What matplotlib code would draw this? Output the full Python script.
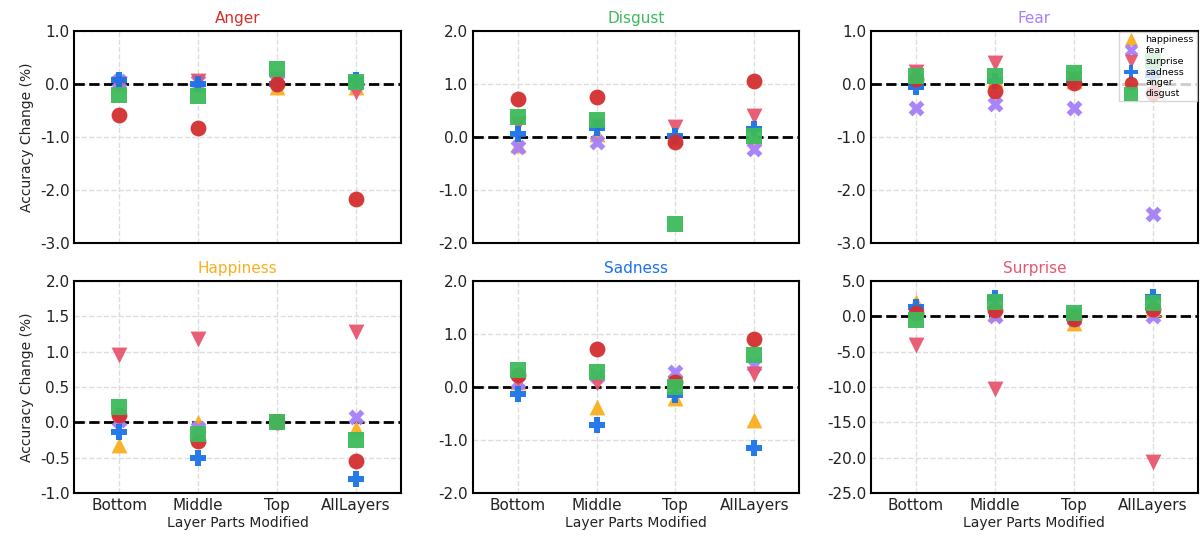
import numpy as np
import matplotlib
matplotlib.use("Agg")
import matplotlib.pyplot as plt
from matplotlib.ticker import FormatStrFormatter

# Категорії
layers = ["Bottom", "Middle", "Top", "AllLayers"]
emotions = ["happiness", "fear", "surprise", "sadness", "anger", "disgust"]

colors = {
    "happiness": "#F9AF1F",
    "fear": "#A67FFA",
    "surprise": "#E8566F",
    "sadness": "#1A73E8",
    "anger": "#D32F2F",
    "disgust": "#3DBB5C",
}
markers = {
    "happiness": "^",
    "fear": "X",
    "surprise": "v",
    "sadness": "P",
    "anger": "o",
    "disgust": "s",
}

# Зміна точності (%) для кожної цільової емоції: [Bottom, Middle, Top, AllLayers]
anger_panel = {
    "happiness": [0.0, 0.0, -0.05, -0.05],
    "fear": [0.05, 0.05, 0.05, 0.0],
    "surprise": [0.0, 0.05, 0.1, -0.15],
    "sadness": [0.08, 0.0, 0.0, 0.08],
    "anger": [-0.58, -0.83, 0.0, -2.16],
    "disgust": [-0.21, -0.23, 0.28, 0.04],
}
disgust_panel = {
    "happiness": [-0.15, 0.05, 0.0, 0.0],
    "fear": [-0.18, -0.1, -0.05, -0.23],
    "surprise": [0.25, 0.2, 0.19, 0.4],
    "sadness": [0.05, 0.18, 0.02, 0.15],
    "anger": [0.72, 0.76, -0.1, 1.05],
    "disgust": [0.38, 0.33, -1.64, 0.02],
}
fear_panel = {
    "happiness": [0.05, 0.1, 0.05, 0.15],
    "fear": [-0.45, -0.37, -0.45, -2.45],
    "surprise": [0.22, 0.4, 0.1, 0.3],
    "sadness": [-0.06, 0.05, 0.05, 0.17],
    "anger": [0.1, -0.13, 0.02, -0.17],
    "disgust": [0.16, 0.16, 0.2, 0.43],
}
happiness_panel = {
    "happiness": [-0.32, 0.01, 0.02, -0.08],
    "fear": [0.04, -0.08, 0.0, 0.08],
    "surprise": [0.96, 1.18, 0.0, 1.28],
    "sadness": [-0.14, -0.51, 0.0, -0.8],
    "anger": [0.1, -0.27, 0.0, -0.55],
    "disgust": [0.22, -0.17, 0.0, -0.25],
}
sadness_panel = {
    "happiness": [0.1, -0.37, -0.2, -0.63],
    "fear": [0.1, 0.2, 0.28, 0.42],
    "surprise": [0.15, 0.07, 0.05, 0.24],
    "sadness": [-0.13, -0.71, -0.14, -1.15],
    "anger": [0.22, 0.72, 0.1, 0.91],
    "disgust": [0.32, 0.28, 0.0, 0.6],
}
surprise_panel = {
    "happiness": [2.1, 0.5, -0.9, 1.0],
    "fear": [0.5, 0.1, -0.3, 0.0],
    "surprise": [-4.0, -10.2, 0.0, -20.6],
    "sadness": [1.3, 2.6, -0.2, 2.8],
    "anger": [0.5, 0.9, -0.4, 1.0],
    "disgust": [-0.5, 2.1, 0.45, 1.9],
}

panels = [
    ("Anger", "anger", anger_panel, (-3, 1), 1.0),
    ("Disgust", "disgust", disgust_panel, (-2, 2), 1.0),
    ("Fear", "fear", fear_panel, (-3, 1), 1.0),
    ("Happiness", "happiness", happiness_panel, (-1, 2), 0.5),
    ("Sadness", "sadness", sadness_panel, (-2, 2), 1.0),
    ("Surprise", "surprise", surprise_panel, (-25, 5), 5.0),
]

fig, axes = plt.subplots(2, 3, figsize=(12, 5.46), dpi=100, sharex=True)
x = np.arange(len(layers))

for ax, (title, key, data, ylim, step) in zip(axes.flat, panels):
    for emo in emotions:
        ax.scatter(
            x, data[emo],
            marker=markers[emo],
            color=colors[emo],
            s=130,
            alpha=0.95,
            linewidths=0,
            label=emo,
            zorder=3,
        )
    ax.axhline(0, color="black", linestyle="--", linewidth=2, zorder=2)
    ax.set_ylim(*ylim)
    ax.set_yticks(np.arange(ylim[0], ylim[1] + step / 2, step))
    ax.yaxis.set_major_formatter(FormatStrFormatter("%.1f"))
    ax.set_xlim(-0.57, 3.57)
    ax.set_xticks(x)
    ax.set_xticklabels(layers)
    ax.set_title(title, color=colors[key], fontsize=11, pad=6)
    ax.grid(True, linestyle="--", color="#DDDDDD", linewidth=1, zorder=0)
    ax.tick_params(axis="both", length=0, labelsize=11, colors="#222222")
    for sp in ax.spines.values():
        sp.set_linewidth(1.5)
        sp.set_color("black")

for ax in axes[1]:
    ax.set_xlabel("Layer Parts Modified", fontsize=10, color="#222222", labelpad=2)
for ax in axes[:, 0]:
    ax.set_ylabel("Accuracy Change (%)", fontsize=10, color="#222222")

axes[0, 2].legend(
    loc="upper right",
    fontsize=6.8,
    borderaxespad=0.1,
    handletextpad=0.5,
    labelspacing=0.2,
    borderpad=0.3,
    markerscale=0.85,
    framealpha=0.8,
    fancybox=False,
)

fig.subplots_adjust(left=0.062, right=0.998, top=0.943, bottom=0.097,
                    wspace=0.22, hspace=0.18)
fig.savefig("out.png", dpi=100)
